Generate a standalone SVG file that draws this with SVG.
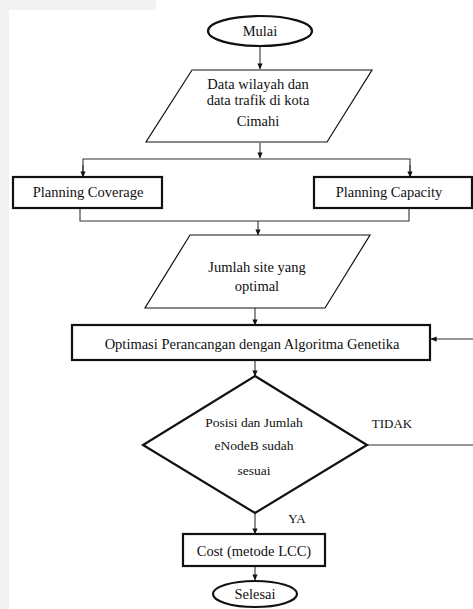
<svg xmlns="http://www.w3.org/2000/svg" width="473" height="609" viewBox="0 0 473 609">
<defs>
<style>
text{font-family:'Liberation Serif',serif;fill:#111;text-anchor:middle}
.t{font-size:14.5px}
.s{font-size:13.5px}
.box{fill:#fff;stroke:#111;stroke-width:2.2}
.thin{fill:#fff;stroke:#111;stroke-width:1.2}
.c{fill:none;stroke:#333;stroke-width:1.1}
</style>
<marker id="ah" viewBox="0 0 8 8" refX="7.5" refY="4" markerWidth="6" markerHeight="6" orient="auto" markerUnits="userSpaceOnUse">
<path d="M0,0.5 L8,4 L0,7.5 Z" fill="#111"/>
</marker>
</defs>
<rect x="0" y="0" width="473" height="609" fill="#fff"/>
<rect x="0" y="0" width="9" height="609" fill="#f2f2f2"/>
<rect x="0" y="0" width="156" height="10" fill="#f2f2f2"/>

<g id="connectors">
<line class="c" x1="260" y1="47" x2="260" y2="69" marker-end="url(#ah)"/>
<line class="c" x1="260" y1="143" x2="260" y2="158" marker-end="url(#ah)"/>
<polyline class="c" points="83,177 83,159 410,159 410,177"/>
<line class="c" x1="83" y1="165" x2="83" y2="177" marker-end="url(#ah)"/>
<line class="c" x1="410" y1="165" x2="410" y2="177" marker-end="url(#ah)"/>
<polyline class="c" points="80,209 80,221 409,221 409,209"/>
<line class="c" x1="258" y1="221" x2="258" y2="235" marker-end="url(#ah)"/>
<line class="c" x1="255" y1="308" x2="255" y2="325" marker-end="url(#ah)"/>
<line class="c" x1="255" y1="360" x2="255" y2="376" marker-end="url(#ah)"/>
<line class="c" x1="367" y1="445" x2="473" y2="445"/>
<line class="c" x1="473" y1="339" x2="431" y2="339" marker-end="url(#ah)"/>
<line class="c" x1="255" y1="513" x2="255" y2="534" marker-end="url(#ah)"/>
<line class="c" x1="255" y1="566" x2="255" y2="580" marker-end="url(#ah)"/>
<text x="392" y="428" font-size="13">TIDAK</text>
<text x="297" y="523" font-size="13">YA</text>
</g>

<g id="mulai">
<ellipse class="box" cx="260" cy="31" rx="52" ry="15"/>
<text class="t" x="260" y="36">Mulai</text>
</g>

<g id="data">
<polygon class="thin" points="192,70 372,70 327,142 146,142"/>
<text class="t" x="258" y="89">Data wilayah dan</text>
<text class="t" x="258" y="105">data trafik di kota</text>
<text class="t" x="258" y="126">Cimahi</text>
</g>

<g id="coverage">
<rect class="box" x="13" y="177" width="149" height="31"/>
<text class="t" x="88" y="197">Planning Coverage</text>
</g>

<g id="capacity">
<rect class="box" x="314" y="177" width="158" height="31"/>
<text class="t" x="389" y="197">Planning Capacity</text>
</g>

<g id="jumlah">
<polygon class="thin" points="190,235 370,235 325,308 145,308"/>
<text class="t" x="257" y="272">Jumlah site yang</text>
<text class="t" x="257" y="291">optimal</text>
</g>

<g id="optimasi">
<rect class="box" x="72" y="325" width="358" height="35"/>
<text class="t" x="252" y="349">Optimasi Perancangan dengan Algoritma Genetika</text>
</g>

<g id="decision">
<polygon class="box" points="255,376 367,445 255,513 143,445"/>
<text class="s" x="254" y="427">Posisi dan Jumlah</text>
<text class="s" x="254" y="450">eNodeB sudah</text>
<text class="s" x="254" y="475">sesuai</text>
</g>

<g id="cost">
<rect class="box" x="183" y="534" width="142" height="32"/>
<text class="t" x="254" y="556">Cost (metode LCC)</text>
</g>

<g id="selesai">
<ellipse class="box" cx="255" cy="594" rx="42" ry="13"/>
<text class="t" x="255" y="599">Selesai</text>
</g>
</svg>
